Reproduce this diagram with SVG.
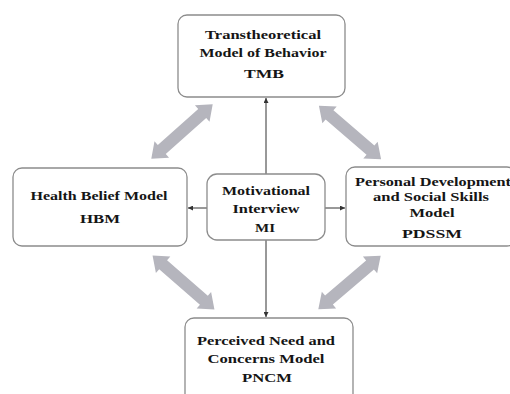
<svg xmlns="http://www.w3.org/2000/svg" width="510" height="394" viewBox="0 0 510 394">
<style>
.box{fill:#fff;stroke:#8c8c8c;stroke-width:1.3}
.t{font-family:"Liberation Serif","Times New Roman",serif;font-weight:bold;font-size:13px;fill:#151515;text-anchor:middle}
.ln{stroke:#333;stroke-width:1;fill:none;marker-end:url(#ah)}
.big{fill:#b5b5bd}
</style>
<defs>
<marker id="ah" viewBox="0 0 6 6" refX="6" refY="3" markerWidth="5" markerHeight="5" orient="auto" markerUnits="userSpaceOnUse">
<path d="M0,0 L6,3 L0,6 z" fill="#333"/>
</marker>
<polygon id="dbl" points="-41,0 -27,-11 -27,-6 27,-6 27,-11 41,0 27,11 27,6 -27,6 -27,11"/>
</defs>
<rect width="510" height="394" fill="#fff"/>
<g id="connectors">
<line class="ln" x1="266" y1="174" x2="266" y2="98"/>
<line class="ln" x1="266" y1="240" x2="266" y2="317"/>
<line class="ln" x1="207" y1="208" x2="188" y2="208"/>
<line class="ln" x1="325" y1="208" x2="345" y2="208"/>
<g class="big">
<use href="#dbl" transform="translate(182,131.5) rotate(-41.5)"/>
<use href="#dbl" transform="translate(350,132.5) rotate(40.7)"/>
<use href="#dbl" transform="translate(183.5,282.5) rotate(41)"/>
<use href="#dbl" transform="translate(349.5,282.5) rotate(-40.5)"/>
</g>
</g>
<g id="TMB">
<rect class="box" x="178" y="15" width="167" height="82" rx="9"/>
<text class="t" x="263" y="39" textLength="116" lengthAdjust="spacingAndGlyphs">Transtheoretical</text>
<text class="t" x="263" y="57" textLength="127" lengthAdjust="spacingAndGlyphs">Model of Behavior</text>
<text class="t" x="264" y="78" textLength="40" lengthAdjust="spacingAndGlyphs">TMB</text>
</g>
<g id="HBM">
<rect class="box" x="13" y="168" width="174" height="78" rx="9"/>
<text class="t" x="99" y="200" textLength="137" lengthAdjust="spacingAndGlyphs">Health Belief Model</text>
<text class="t" x="100" y="223" textLength="40" lengthAdjust="spacingAndGlyphs">HBM</text>
</g>
<g id="MI">
<rect class="box" x="207" y="174" width="118" height="66" rx="10"/>
<text class="t" x="266" y="195" textLength="88" lengthAdjust="spacingAndGlyphs">Motivational</text>
<text class="t" x="266" y="213" textLength="67" lengthAdjust="spacingAndGlyphs">Interview</text>
<text class="t" x="265" y="232" textLength="20" lengthAdjust="spacingAndGlyphs">MI</text>
</g>
<g id="PDSSM">
<rect class="box" x="346" y="167" width="170" height="79" rx="9"/>
<text class="t" x="433" y="186" textLength="156" lengthAdjust="spacingAndGlyphs">Personal Development</text>
<text class="t" x="431" y="201" textLength="116" lengthAdjust="spacingAndGlyphs">and Social Skills</text>
<text class="t" x="432" y="217" textLength="45" lengthAdjust="spacingAndGlyphs">Model</text>
<text class="t" x="432" y="238" textLength="60" lengthAdjust="spacingAndGlyphs">PDSSM</text>
</g>
<g id="PNCM">
<rect class="box" x="185" y="318" width="168" height="90" rx="9"/>
<text class="t" x="266" y="345" textLength="138" lengthAdjust="spacingAndGlyphs">Perceived Need and</text>
<text class="t" x="266" y="363" textLength="117" lengthAdjust="spacingAndGlyphs">Concerns Model</text>
<text class="t" x="267" y="382" textLength="50" lengthAdjust="spacingAndGlyphs">PNCM</text>
</g>
</svg>
